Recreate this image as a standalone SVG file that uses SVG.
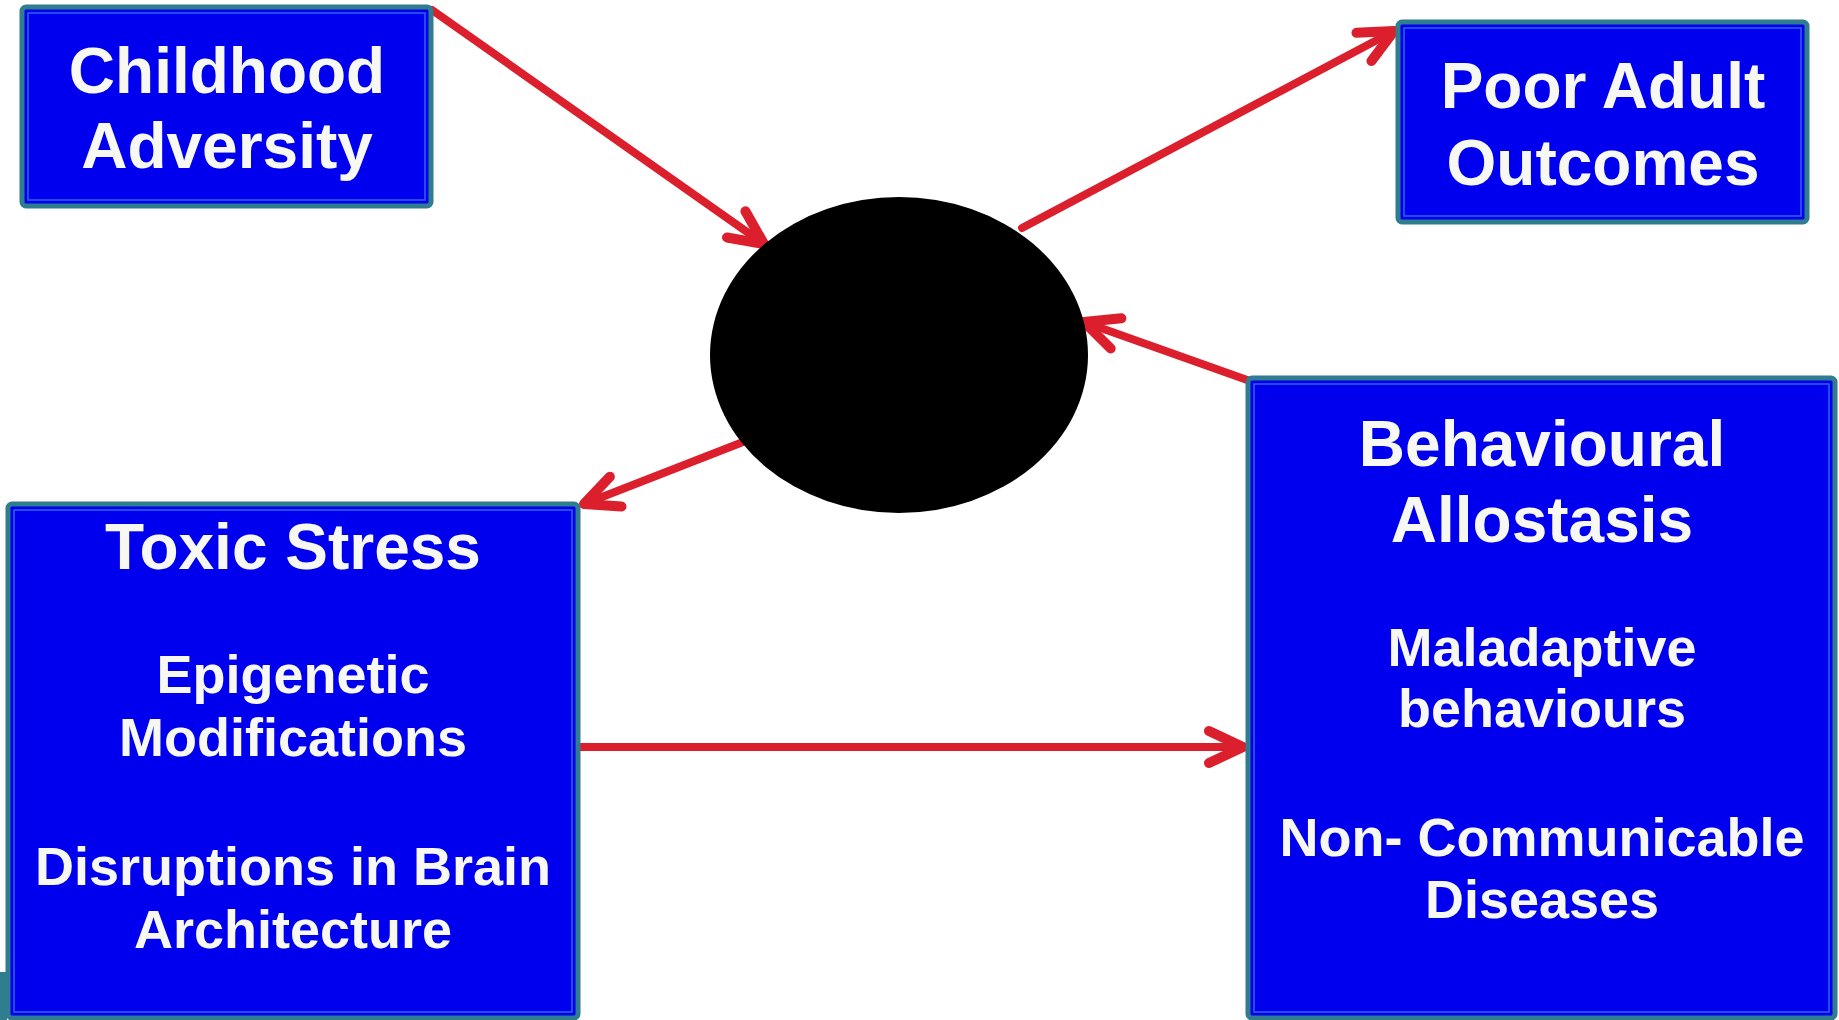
<svg xmlns="http://www.w3.org/2000/svg" width="1839" height="1020" viewBox="0 0 1839 1020">
  <style>
    .box { fill: #0000ee; stroke: #2f7d8e; stroke-width: 5; }
    .inner { fill: none; stroke: #2f62f2; stroke-width: 1.5; }
    .t { font-family: "Liberation Sans", Arial, sans-serif; font-weight: bold; fill: #f8f8f2; text-anchor: middle; }
    .big { font-size: 64px; }
    .sm { font-size: 54px; }
    .arr { fill: none; stroke: #dc1f2c; stroke-width: 8; stroke-linecap: round; marker-end: url(#chev); }
  </style>
  <defs>
    <marker id="chev" markerUnits="userSpaceOnUse" markerWidth="80" markerHeight="80" refX="0" refY="0" orient="auto" style="overflow:visible">
      <path d="M-34,-16 L0,0 L-34,16" fill="none" stroke="#dc1f2c" stroke-width="10" stroke-linecap="round" stroke-linejoin="round"/>
    </marker>
  </defs>
  <rect width="1839" height="1020" fill="#ffffff"/>
  <rect x="0" y="972" width="7" height="48" fill="#2f7d8e"/>

  <g id="connectors">
    <line class="arr" x1="432" y1="10" x2="764" y2="244"/>
    <line class="arr" x1="1022" y1="228" x2="1394" y2="31"/>
    <line class="arr" x1="1250" y1="381" x2="1084" y2="322"/>
    <line class="arr" x1="743" y1="442" x2="584" y2="504"/>
    <line class="arr" x1="578" y1="747" x2="1243" y2="747"/>
  </g>

  <g id="center">
    <ellipse cx="899" cy="355" rx="189" ry="158" fill="#000000"/>
  </g>

  <g id="childhood">
    <rect class="box" x="22" y="7" width="409" height="199" rx="4"/>
    <rect class="inner" x="28" y="13" width="397" height="187"/>
    <text class="t big" x="227" y="93">Childhood</text>
    <text class="t big" x="227" y="168">Adversity</text>
  </g>

  <g id="poor-adult">
    <rect class="box" x="1398" y="22" width="409" height="200" rx="4"/>
    <rect class="inner" x="1404" y="28" width="397" height="188"/>
    <text class="t big" x="1603" y="108">Poor Adult</text>
    <text class="t big" x="1603" y="185">Outcomes</text>
  </g>

  <g id="toxic-stress">
    <rect class="box" x="8" y="504" width="570" height="514" rx="4"/>
    <rect class="inner" x="14" y="510" width="558" height="502"/>
    <text class="t big" x="293" y="569">Toxic Stress</text>
    <text class="t sm" x="293" y="693">Epigenetic</text>
    <text class="t sm" x="293" y="756">Modifications</text>
    <text class="t sm" x="293" y="885">Disruptions in Brain</text>
    <text class="t sm" x="293" y="948">Architecture</text>
  </g>

  <g id="behavioural">
    <rect class="box" x="1248" y="378" width="587" height="640" rx="4"/>
    <rect class="inner" x="1254" y="384" width="575" height="628"/>
    <text class="t big" x="1542" y="466">Behavioural</text>
    <text class="t big" x="1542" y="542">Allostasis</text>
    <text class="t sm" x="1542" y="666">Maladaptive</text>
    <text class="t sm" x="1542" y="727">behaviours</text>
    <text class="t sm" x="1542" y="856">Non- Communicable</text>
    <text class="t sm" x="1542" y="918">Diseases</text>
  </g>
</svg>
